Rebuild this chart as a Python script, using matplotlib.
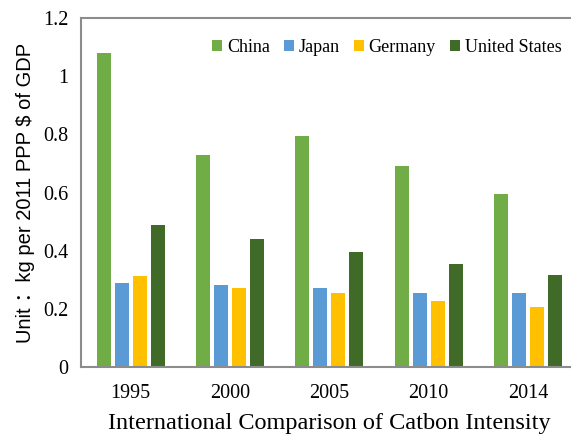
import matplotlib
matplotlib.use("Agg")
import matplotlib.pyplot as plt
import numpy as np

years = ["1995", "2000", "2005", "2010", "2014"]
china = [1.08, 0.73, 0.795, 0.69, 0.595]
japan = [0.289, 0.283, 0.272, 0.255, 0.255]
germany = [0.312, 0.272, 0.255, 0.228, 0.205]
us = [0.489, 0.439, 0.395, 0.355, 0.316]
series_names = ["China", "Japan", "Germany", "United States"]
colors = ["#70AD47", "#5B9BD5", "#FFC000", "#3F6A28"]

fig = plt.figure(figsize=(5.71, 4.34), dpi=100)
ax = fig.add_axes([0.1419, 0.1544, 0.8695, 0.804])

x = np.arange(len(years))
w = 0.141
step = 0.181
for i, (vals, name, c) in enumerate(zip([china, japan, germany, us], series_names, colors)):
    ax.bar(x + (i - 1.5) * step, vals, width=w, color=c, label=name)

ax.set_xlim(-0.5, 4.5)
ax.set_ylim(0, 1.2)
ax.set_yticks([0, 0.2, 0.4, 0.6, 0.8, 1.0, 1.2])
ax.set_yticklabels(["0", "0.2", "0.4", "0.6", "0.8", "1", "1.2"])
ax.set_xticks(x)
ax.set_xticklabels(years)
ax.tick_params(length=0, labelsize=14.5)
ax.tick_params(axis="x", pad=12)
ax.tick_params(axis="y", pad=9)
for lab in ax.get_xticklabels() + ax.get_yticklabels():
    lab.set_family("Liberation Serif")

for s in ["left", "bottom", "top", "right"]:
    ax.spines[s].set_color("#8c8c8c")
    ax.spines[s].set_linewidth(1.5)

ax.set_xlabel("International Comparison of Catbon Intensity", family="Liberation Serif",
              fontsize=17.5, labelpad=7.5)
ax.set_ylabel("Unit ：kg per 2011 PPP $ of GDP", family=["Liberation Sans", "Noto Sans CJK SC"],
              fontsize=14.5, labelpad=6)

leg = fig.legend(loc="center right", bbox_to_anchor=(1.012, 0.89), ncol=4, frameon=False,
                 prop={"family": "Liberation Serif", "size": 13},
                 handlelength=0.55, handleheight=0.55, handletextpad=0.25, columnspacing=0.8)

fig.savefig("out.png", dpi=100)
